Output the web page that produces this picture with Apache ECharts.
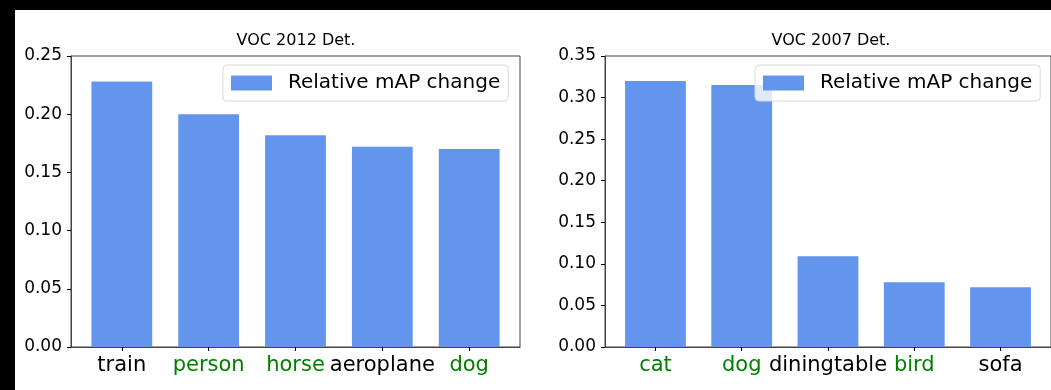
<!DOCTYPE html>
<html>
<head>
<meta charset="utf-8">
<script src="https://cdn.jsdelivr.net/npm/echarts@6/dist/echarts.min.js"></script>
<style>
  html, body { margin: 0; padding: 0; background: #fff; }
  #chart { width: 1051px; height: 390px; }
</style>
</head>
<body>
<div id="chart"></div>
<script>
// VOC 2012 detection: per-class relative mAP change
const voc2012Classes = ['train', 'person', 'horse', 'aeroplane', 'dog'];
const voc2012Values = [0.228, 0.200, 0.182, 0.172, 0.170];
const voc2012Green = [false, true, true, false, true];

// VOC 2007 detection: per-class relative mAP change
const voc2007Classes = ['cat', 'dog', 'diningtable', 'bird', 'sofa'];
const voc2007Values = [0.320, 0.315, 0.109, 0.078, 0.072];
const voc2007Green = [true, true, false, true, false];

const ticks2012 = [0, 0.05, 0.10, 0.15, 0.20, 0.25];
const ticks2007 = [0, 0.05, 0.10, 0.15, 0.20, 0.25, 0.30, 0.35];

const seriesName = 'Relative mAP change';
const titles = ['VOC 2012 Det.', 'VOC 2007 Det.'];

const FONT = 'DejaVu Sans';
const BAR = '#6495ED';
const AXIS = '#444';

// x range: bars of width 0.7 at integer positions plus 5% margins
const XMIN = -0.585, XMAX = 4.585;
const GRID_W = 449;
const barPx = 0.7 * GRID_W / (XMAX - XMIN);

const grids = [
  { left: 71, top: 56, width: GRID_W, height: 291 },
  { left: 605, top: 56, width: GRID_W, height: 291 }
];

function xAxisFor(idx, classes, green) {
  const positions = classes.map((_, i) => i);
  return {
    type: 'value', gridIndex: idx, min: XMIN, max: XMAX,
    axisLine: { show: true, onZero: false, lineStyle: { color: AXIS, width: 1 } },
    axisTick: { show: true, length: 4, inside: false, customValues: positions,
      lineStyle: { color: '#000', width: 1 } },
    splitLine: { show: false },
    axisLabel: {
      customValues: positions, margin: 8,
      formatter: v => {
        const i = Math.round(v);
        return '{' + (green[i] ? 'g' : 'k') + '|' + classes[i] + '}';
      },
      rich: {
        g: { color: '#008000', fontSize: 21, fontFamily: FONT },
        k: { color: '#000', fontSize: 21, fontFamily: FONT }
      }
    }
  };
}

function yAxisFor(idx, ticks) {
  return {
    type: 'value', gridIndex: idx, min: 0, max: ticks[ticks.length - 1], interval: 0.05,
    axisLine: { show: true, onZero: false, lineStyle: { color: AXIS, width: 1 } },
    axisTick: { show: true, length: 4, lineStyle: { color: '#000', width: 1 } },
    splitLine: { show: false },
    axisLabel: { margin: 9, color: '#000', fontSize: 17, fontFamily: FONT,
      formatter: v => v.toFixed(2) }
  };
}

function legendAt(left) {
  return {
    data: [seriesName], left: left, top: 65,
    orient: 'horizontal',
    icon: 'rect', itemWidth: 41, itemHeight: 15,
    padding: [8, 8, 8, 8],
    backgroundColor: 'rgba(255,255,255,0.8)',
    borderColor: '#d9d9d9', borderWidth: 1, borderRadius: 4,
    selectedMode: false,
    textStyle: { fontSize: 20, fontFamily: FONT, color: '#000', padding: [0, 0, 0, 11] }
  };
}

const chart = echarts.init(document.getElementById('chart'), null, { renderer: 'canvas' });
chart.setOption({
  backgroundColor: '#fff',
  animation: false,
  title: [
    { text: titles[0], left: 296, top: 33, textAlign: 'center', padding: 0,
      textStyle: { fontSize: 16, fontWeight: 'normal', fontFamily: FONT, color: '#000' } },
    { text: titles[1], left: 831, top: 33, textAlign: 'center', padding: 0,
      textStyle: { fontSize: 16, fontWeight: 'normal', fontFamily: FONT, color: '#000' } }
  ],
  grid: grids.map(g => Object.assign({ show: true, borderColor: AXIS, borderWidth: 1,
    backgroundColor: 'transparent' }, g)),
  xAxis: [xAxisFor(0, voc2012Classes, voc2012Green), xAxisFor(1, voc2007Classes, voc2007Green)],
  yAxis: [yAxisFor(0, ticks2012), yAxisFor(1, ticks2007)],
  legend: [legendAt(223), legendAt(755)],
  series: [
    { name: seriesName, type: 'bar', xAxisIndex: 0, yAxisIndex: 0, barWidth: barPx,
      itemStyle: { color: BAR }, data: voc2012Values.map((v, i) => [i, v]) },
    { name: seriesName, type: 'bar', xAxisIndex: 1, yAxisIndex: 1, barWidth: barPx,
      itemStyle: { color: BAR }, data: voc2007Values.map((v, i) => [i, v]) }
  ],
  graphic: [
    // dark frame along the top and left edges
    { type: 'rect', z: 100, shape: { x: 0, y: 0, width: 1051, height: 10 }, style: { fill: '#000' } },
    { type: 'rect', z: 100, shape: { x: 0, y: 0, width: 15, height: 390 }, style: { fill: '#000' } }
  ]
});
</script>
</body>
</html>
